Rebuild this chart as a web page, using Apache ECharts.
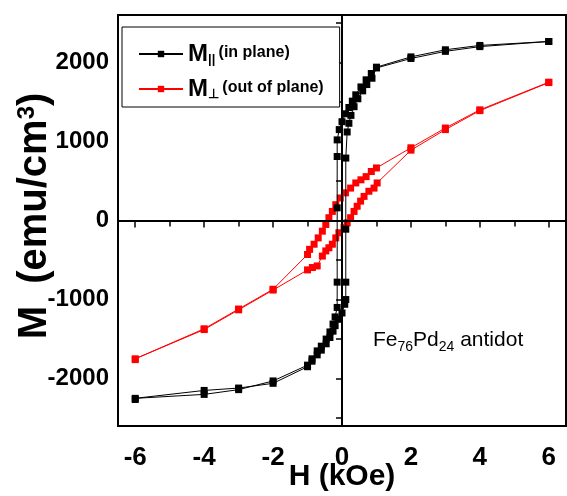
<!DOCTYPE html>
<html><head><meta charset="utf-8">
<script src="https://cdn.jsdelivr.net/npm/echarts@6/dist/echarts.min.js"></script>
<style>html,body{margin:0;padding:0;background:#fff}#c{width:567px;height:496px}</style>
</head><body><div id="c"></div>
<script>
const FONT = '"Liberation Sans",Arial,sans-serif';

// In-plane (black) loop: descending branch (+6 -> -6), ascending branch (-6 -> +6)
const inPlaneDescH = [6, 4, 3, 2, 1.0, 0.85, 0.7, 0.55, 0.4, 0.3, 0.2, 0.1, 0.0, -0.08, -0.14, -0.14, -0.14, -0.14, -0.14, -0.2, -0.26, -0.35, -0.46, -0.6, -0.72, -0.87, -1.0, -2, -3, -4, -6];
const inPlaneDescM = [2265, 2215, 2160, 2070, 1940, 1860, 1780, 1690, 1590, 1510, 1430, 1350, 1250, 1150, 1020, 810, 160, -780, -1100, -1220, -1310, -1410, -1500, -1590, -1650, -1750, -1830, -2030, -2140, -2200, -2250];
const inPlaneAscH = [-6, -4, -3, -2, -1.0, -0.87, -0.72, -0.6, -0.46, -0.35, -0.26, -0.2, -0.1, 0.0, 0.08, 0.11, 0.11, 0.11, 0.11, 0.15, 0.2, 0.26, 0.35, 0.46, 0.6, 0.72, 0.87, 1.0, 2, 3, 4, 6];
const inPlaneAscM = [-2265, -2150, -2120, -2060, -1850, -1780, -1700, -1640, -1560, -1480, -1400, -1330, -1250, -1170, -1060, -1000, -780, -110, 790, 1120, 1230, 1330, 1440, 1540, 1640, 1720, 1800, 1930, 2050, 2140, 2200, 2265];

// Out-of-plane (red) loop
const outPlaneDescH = [6, 4, 3, 2, 1.0, 0.85, 0.7, 0.55, 0.4, 0.25, 0.1, -0.05, -0.18, -0.28, -0.38, -0.47, -0.57, -0.69, -0.81, -0.94, -1.0, -2, -3, -4, -6];
const outPlaneDescM = [1750, 1400, 1170, 920, 665, 620, 555, 515, 475, 410, 350, 285, 200, 115, 35, -50, -135, -220, -300, -365, -430, -870, -1120, -1370, -1750];
const outPlaneAscH = [-6, -4, -3, -2, -1.0, -0.86, -0.72, -0.57, -0.47, -0.38, -0.28, -0.18, -0.09, 0.06, 0.15, 0.25, 0.35, 0.44, 0.54, 0.64, 0.78, 0.93, 1.02, 2, 3, 4, 6];
const outPlaneAscM = [-1760, -1380, -1130, -880, -625, -595, -575, -450, -385, -345, -300, -220, -155, -90, -30, 35, 115, 180, 245, 305, 370, 410, 475, 890, 1150, 1390, 1745];

const xMajorTicks = [-6, -4, -2, 0, 2, 4, 6];
const xMinorTicks = [-5, -3, -1, 1, 3, 5];
const xAllTicks = [-6, -5, -4, -3, -2, -1, 0, 1, 2, 3, 4, 5, 6];
const yMajorTicks = [-2000, -1000, 0, 1000, 2000];
const yMinorTicks = [-2500, -1500, -500, 500, 1500, 2500];
const yAllTicks = [-2500, -2000, -1500, -1000, -500, 0, 500, 1000, 1500, 2000, 2500];

const seriesNames = ['in', 'out'];

function pairs(h, m) { return h.map((v, i) => [v, m[i]]); }

const chart = echarts.init(document.getElementById('c'));
const X = {min: -6.5, max: 6.5, type: 'value', axisLine: {show: false}, splitLine: {show: false}};
const Y = {min: -2600, max: 2600, type: 'value', axisLine: {show: false}, splitLine: {show: false}};
const plain = v => String(v);

chart.setOption({
  animation: false,
  grid: {left: 118, right: 1, top: 15, bottom: 70, outerBoundsMode: 'none', containLabel: false, show: true, borderColor: '#000', borderWidth: 2, backgroundColor: 'transparent'},
  xAxis: [
    Object.assign({}, X, {position: 'bottom', axisTick: {show: true, inside: false, length: 7, customValues: xMajorTicks, lineStyle: {color: '#000', width: 1.5}},
      axisLabel: {customValues: xMajorTicks, formatter: plain, color: '#000', fontFamily: FONT, fontWeight: 'bold', fontSize: 26, margin: 19},
      name: 'H (kOe)', nameLocation: 'middle', nameGap: 36, nameMoveOverlap: false,
      nameTextStyle: {color: '#000', fontFamily: FONT, fontWeight: 'bold', fontSize: 30}}),
    Object.assign({}, X, {position: 'bottom', axisTick: {show: true, inside: false, length: 5, customValues: xMinorTicks, lineStyle: {color: '#000', width: 1.5}}, axisLabel: {show: false}}),
    Object.assign({}, X, {position: 'top', axisTick: {show: true, inside: true, length: 6, customValues: xAllTicks, lineStyle: {color: '#000', width: 1.5}}, axisLabel: {show: false}})
  ],
  yAxis: [
    Object.assign({}, Y, {position: 'left', axisTick: {show: true, inside: false, length: 6, customValues: yMajorTicks, lineStyle: {color: '#000', width: 1.5}},
      axisLabel: {customValues: yMajorTicks, formatter: plain, color: '#000', fontFamily: FONT, fontWeight: 'bold', fontSize: 24, margin: 9}}),
    Object.assign({}, Y, {position: 'left', axisTick: {show: true, inside: false, length: 5, customValues: yMinorTicks, lineStyle: {color: '#000', width: 1.5}}, axisLabel: {show: false}}),
    Object.assign({}, Y, {position: 'right', axisTick: {show: true, inside: true, length: 6, customValues: yAllTicks, lineStyle: {color: '#000', width: 1.5}}, axisLabel: {show: false}})
  ],
  legend: {
    data: seriesNames,
    orient: 'vertical', left: 122, top: 27,
    padding: [10, 16, 6, 16], itemGap: 6, itemWidth: 44, itemHeight: 8,
    borderColor: '#000', borderWidth: 1, backgroundColor: '#fff',
    textStyle: {
      fontFamily: FONT, color: '#000',
      rich: {
        m: {fontSize: 24, fontWeight: 'bold', lineHeight: 24, verticalAlign: 'top', fontFamily: FONT},
        s: {fontSize: 13, fontWeight: 'bold', lineHeight: 14, padding: [16, 0, 0, 0], verticalAlign: 'bottom', fontFamily: FONT},
        t: {fontSize: 16, fontWeight: 'bold', lineHeight: 24, verticalAlign: 'top', padding: [3, 0, 0, 0], fontFamily: FONT}
      }
    },
    formatter: function (n) {
      return n === 'in' ? '{m|M}{s|||} {t|(in plane)}' : '{m|M}{s|\u22A5} {t|(out of plane)}';
    }
  },
  graphic: [
    {type: 'text', x: 35, y: 216, rotation: Math.PI / 2, z: 10,
      style: {text: '{a|M  }{a|(emu/cm}{s|3}{a|)}', align: 'center', verticalAlign: 'middle', fill: '#000',
        rich: {a: {fontFamily: FONT, fontWeight: 'bold', fontSize: 40, lineHeight: 40, verticalAlign: 'bottom'},
               s: {fontFamily: FONT, fontWeight: 'bold', fontSize: 24, lineHeight: 24, verticalAlign: 'top'}}}},
    {type: 'text', x: 373, y: 330, z: 10,
      style: {text: '{a|Fe}{s|76}{a|Pd}{s|24}{a| antidot}', fill: '#000',
        rich: {a: {fontFamily: FONT, fontSize: 21, lineHeight: 24, verticalAlign: 'top'},
               s: {fontFamily: FONT, fontSize: 14, lineHeight: 14, padding: [16, 0, 0, 0], verticalAlign: 'bottom'}}}}
  ],
  series: [
    {type: 'line', name: 'zero', silent: true, data: [], z: 1, xAxisIndex: 0, yAxisIndex: 0,
      markLine: {silent: true, symbol: 'none', label: {show: false}, animation: false,
        lineStyle: {color: '#000', width: 2, type: 'solid'},
        data: [{xAxis: 0}, {yAxis: 0}]}},
    {type: 'line', name: 'out', z: 3, data: pairs(outPlaneDescH, outPlaneDescM).concat(pairs(outPlaneAscH, outPlaneAscM)),
      symbol: 'rect', symbolSize: 7, showAllSymbol: true, color: '#ff0000',
      lineStyle: {color: '#ff0000', width: 1}, itemStyle: {color: '#ff0000'}},
    {type: 'line', name: 'in', z: 4, data: pairs(inPlaneDescH, inPlaneDescM).concat(pairs(inPlaneAscH, inPlaneAscM)),
      symbol: 'rect', symbolSize: 7, showAllSymbol: true, color: '#000',
      lineStyle: {color: '#000', width: 1}, itemStyle: {color: '#000'}}
  ]
});
</script></body></html>
